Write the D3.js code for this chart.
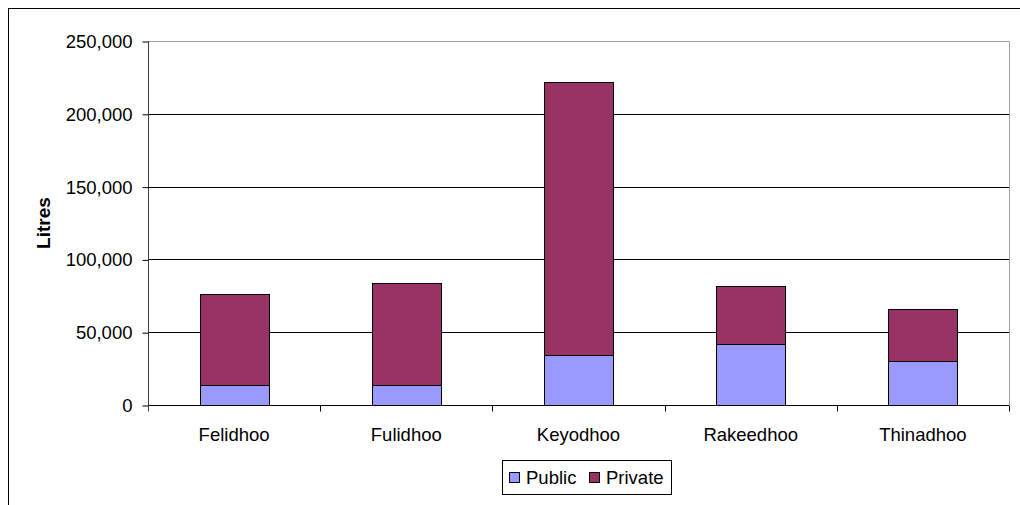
<!DOCTYPE html>
<html>
<head>
<meta charset="utf-8">
<script src="https://cdn.jsdelivr.net/npm/d3@7"></script>
<style>
  body { margin: 0; background: #fff; }
  svg { display: block; font-family: "Liberation Sans", Arial, sans-serif; }
</style>
</head>
<body>
<svg id="chart" width="1020" height="505"></svg>
<script>
// Litres by island, public vs private
const islands = ['Felidhoo', 'Fulidhoo', 'Keyodhoo', 'Rakeedhoo', 'Thinadhoo'];
const publicLitres = [14000, 14000, 34000, 42000, 30000];
const privateLitres = [62500, 70000, 188000, 39500, 36000];
const seriesNames = ['Public', 'Private'];
const seriesColors = ['#9999FF', '#993366'];
const yTicks = [0, 50000, 100000, 150000, 200000, 250000];

const svg = d3.select('#chart');
const plotLeft = 148, plotRight = 1009, plotTop = 41, plotBottom = 405;

// outer chart frame (only top/left visible in the window)
svg.append('rect')
  .attr('x', 8.5).attr('y', 8.5)
  .attr('width', 1030).attr('height', 520)
  .attr('fill', 'none').attr('stroke', '#000').attr('stroke-width', 1);

const x = d3.scaleBand().domain(islands).range([plotLeft, plotRight]).paddingInner(0.6).paddingOuter(0.3);
const y = d3.scaleLinear().domain([0, 250000]).range([plotBottom, plotTop]);

// rows for stacking
const rows = islands.map((name, i) => ({ name, Public: publicLitres[i], Private: privateLitres[i] }));
const stacked = d3.stack().keys(seriesNames)(rows);

// gridlines
svg.append('g')
  .selectAll('line')
  .data(yTicks.filter(t => t > 0 && t < 250000))
  .enter().append('line')
  .attr('x1', plotLeft).attr('x2', plotRight)
  .attr('y1', d => Math.round(y(d)) + 0.5).attr('y2', d => Math.round(y(d)) + 0.5)
  .attr('stroke', '#000');

// plot area border (top & right grey)
svg.append('path')
  .attr('d', `M${plotLeft},${plotTop + 0.5} H${plotRight + 0.5} V${plotBottom}`)
  .attr('fill', 'none').attr('stroke', '#a0a0a0');

// bars
svg.append('g')
  .selectAll('g')
  .data(stacked)
  .enter().append('g')
  .attr('fill', (d, i) => seriesColors[i])
  .selectAll('rect')
  .data(d => d)
  .enter().append('rect')
  .attr('x', d => Math.round(x(d.data.name)) + 0.5)
  .attr('y', d => Math.round(y(d[1])) + 0.5)
  .attr('width', Math.round(x.bandwidth()))
  .attr('height', d => Math.round(y(d[0])) - Math.round(y(d[1])))
  .attr('stroke', '#000').attr('stroke-width', 1);

// y axis
const yAxis = d3.axisLeft(y)
  .tickValues(yTicks)
  .tickSize(6)
  .tickPadding(10)
  .tickFormat(d3.format(','));
const gy = svg.append('g').attr('transform', `translate(${plotLeft + 0.5},0.5)`).call(yAxis);
gy.select('.domain').attr('stroke', '#404040').attr('d', `M0,${plotTop}V${plotBottom + 5}`);
gy.selectAll('.tick line').attr('stroke', '#000');
gy.selectAll('text')
  .attr('font-size', '18.5px')
  .attr('font-family', '"Liberation Sans", Arial, sans-serif')
  .attr('fill', '#000');

// x axis
const gx = svg.append('g').attr('transform', `translate(0,${plotBottom + 0.5})`);
gx.append('line').attr('x1', plotLeft).attr('x2', plotRight).attr('stroke', '#000');
gx.selectAll('.cat-tick')
  .data(d3.range(islands.length + 1))
  .enter().append('line')
  .attr('class', 'cat-tick')
  .attr('x1', i => Math.round(plotLeft + i * x.step()) + 0.5)
  .attr('x2', i => Math.round(plotLeft + i * x.step()) + 0.5)
  .attr('y1', 0).attr('y2', 6)
  .attr('stroke', i => i === 0 ? '#404040' : '#000');
gx.selectAll('text')
  .data(islands)
  .enter().append('text')
  .attr('x', d => x(d) + x.bandwidth() / 2)
  .attr('y', 35)
  .attr('text-anchor', 'middle')
  .attr('font-size', '18.5px')
  .text(d => d);

// y axis title
svg.append('text')
  .attr('transform', `translate(50,${(plotTop + plotBottom) / 2}) rotate(-90)`)
  .attr('text-anchor', 'middle')
  .attr('font-size', '19px')
  .attr('font-weight', 'bold')
  .text('Litres');

// legend
const legend = svg.append('g');
legend.append('rect')
  .attr('x', 502.5).attr('y', 460.5)
  .attr('width', 169).attr('height', 34)
  .attr('fill', '#fff').attr('stroke', '#000');
const legendX = [509, 589];
seriesNames.forEach((name, i) => {
  legend.append('rect')
    .attr('x', legendX[i] + 0.5).attr('y', 472.5)
    .attr('width', 10).attr('height', 10)
    .attr('fill', seriesColors[i]).attr('stroke', '#000');
  legend.append('text')
    .attr('x', legendX[i] + 17).attr('y', 484)
    .attr('font-size', '18.5px')
    .text(name);
});
</script>
</body>
</html>
